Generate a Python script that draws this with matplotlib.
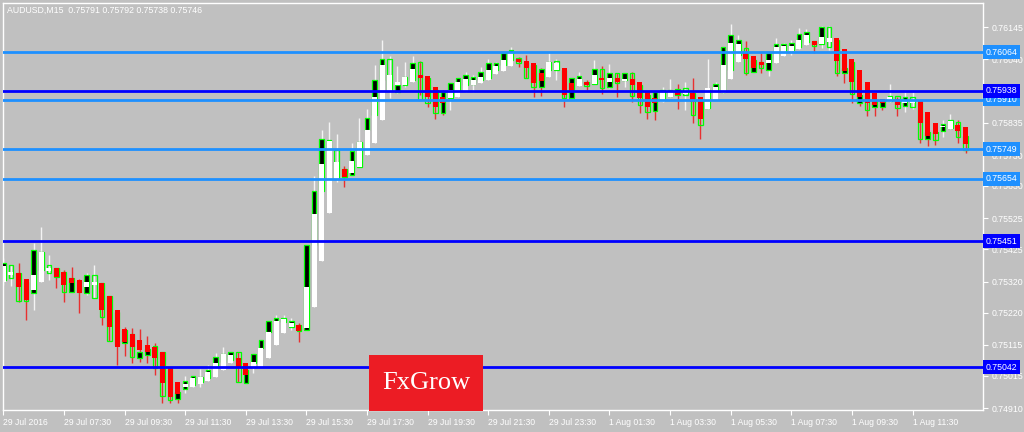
import numpy as np
import matplotlib
matplotlib.use("Agg")
import matplotlib.pyplot as plt
from matplotlib.patches import Rectangle
from matplotlib.transforms import blended_transform_factory

symbol_info = "AUDUSD,M15  0.75791 0.75792 0.75738 0.75746"

time_labels = [
    "29 Jul 2016", "29 Jul 07:30", "29 Jul 09:30", "29 Jul 11:30",
    "29 Jul 13:30", "29 Jul 15:30", "29 Jul 17:30", "29 Jul 19:30",
    "29 Jul 21:30", "29 Jul 23:30", "1 Aug 01:30", "1 Aug 03:30",
    "1 Aug 05:30", "1 Aug 07:30", "1 Aug 09:30", "1 Aug 11:30",
]
bars_per_label = 8

price_ticks = [0.76145, 0.76040, 0.75835, 0.75730, 0.75630, 0.75525,
               0.75425, 0.75320, 0.75220, 0.75115, 0.75015, 0.74910]

# horizontal levels
levels_light = [0.76064, 0.75910, 0.75749, 0.75654]
levels_dark = [0.75938, 0.75451, 0.75042]

# Heiken Ashi (white / red bars)
ha_open = [
    0.75319, 0.75342, 0.75348, 0.75329, 0.75293, 0.75319, 0.75354, 0.75364,
    0.75351, 0.75332, 0.75325, 0.75303, 0.75309, 0.75316, 0.75273, 0.75228,
    0.75166, 0.75150, 0.75131, 0.75115, 0.75108, 0.75092, 0.75043, 0.74995,
    0.74979, 0.74979, 0.74988, 0.74998, 0.75011, 0.75034, 0.75056, 0.75073,
    0.75056, 0.75043, 0.75043, 0.75073, 0.75115, 0.75154, 0.75173, 0.75179,
    0.75170, 0.75238, 0.75387, 0.75542, 0.75653, 0.75685, 0.75672, 0.75691,
    0.75730, 0.75769, 0.75844, 0.75934, 0.75957, 0.75957, 0.75967, 0.75990,
    0.75986, 0.75951, 0.75918, 0.75915, 0.75918, 0.75934, 0.75957, 0.75964,
    0.75973, 0.75993, 0.76002, 0.76019, 0.76041, 0.76035, 0.76028, 0.75996,
    0.75983, 0.76006, 0.76012, 0.75964, 0.75954, 0.75967, 0.75960, 0.75980,
    0.75967, 0.75980, 0.75970, 0.75977, 0.75967, 0.75934, 0.75915, 0.75902,
    0.75918, 0.75934, 0.75928, 0.75931, 0.75918, 0.75879, 0.75909, 0.75931,
    0.75977, 0.76032, 0.76061, 0.76051, 0.76032, 0.76028, 0.76028, 0.76051,
    0.76067, 0.76074, 0.76087, 0.76100, 0.76090, 0.76096, 0.76109, 0.76074,
    0.76041, 0.76006, 0.75967, 0.75931, 0.75912, 0.75902, 0.75912, 0.75899,
    0.75899, 0.75909, 0.75870, 0.75834, 0.75821, 0.75815, 0.75828, 0.75821,
]
ha_close = [
    0.75371, 0.75351, 0.75303, 0.75261, 0.75342, 0.75416, 0.75364, 0.75335,
    0.75309, 0.75316, 0.75283, 0.75319, 0.75319, 0.75228, 0.75173, 0.75108,
    0.75124, 0.75108, 0.75099, 0.75092, 0.75073, 0.74992, 0.74946, 0.74956,
    0.74988, 0.75008, 0.75011, 0.75027, 0.75056, 0.75086, 0.75082, 0.75043,
    0.75018, 0.75060, 0.75105, 0.75157, 0.75192, 0.75199, 0.75186, 0.75160,
    0.75303, 0.75539, 0.75701, 0.75776, 0.75708, 0.75659, 0.75711, 0.75772,
    0.75811, 0.75918, 0.76022, 0.75990, 0.75967, 0.75983, 0.76009, 0.75980,
    0.75918, 0.75886, 0.75899, 0.75941, 0.75967, 0.75977, 0.75973, 0.75983,
    0.76006, 0.76019, 0.76038, 0.76061, 0.76032, 0.76012, 0.75964, 0.75970,
    0.76032, 0.76028, 0.75925, 0.75934, 0.75977, 0.75957, 0.75990, 0.75973,
    0.75980, 0.75967, 0.75977, 0.75957, 0.75915, 0.75886, 0.75899, 0.75934,
    0.75934, 0.75925, 0.75938, 0.75902, 0.75847, 0.75947, 0.75951, 0.76022,
    0.76093, 0.76090, 0.76041, 0.76012, 0.76022, 0.76038, 0.76080, 0.76083,
    0.76083, 0.76103, 0.76119, 0.76087, 0.76113, 0.76109, 0.76035, 0.76002,
    0.75967, 0.75918, 0.75899, 0.75892, 0.75899, 0.75918, 0.75892, 0.75905,
    0.75909, 0.75834, 0.75792, 0.75798, 0.75824, 0.75840, 0.75808, 0.75766,
]
ha_high = [
    0.75397, 0.75374, 0.75380, 0.75329, 0.75445, 0.75497, 0.75406, 0.75364,
    0.75358, 0.75367, 0.75329, 0.75348, 0.75374, 0.75316, 0.75273, 0.75228,
    0.75173, 0.75170, 0.75166, 0.75144, 0.75121, 0.75092, 0.75043, 0.74995,
    0.75014, 0.75014, 0.75037, 0.75050, 0.75089, 0.75108, 0.75092, 0.75092,
    0.75056, 0.75086, 0.75131, 0.75192, 0.75212, 0.75212, 0.75202, 0.75186,
    0.75439, 0.75662, 0.75811, 0.75837, 0.75798, 0.75695, 0.75769, 0.75850,
    0.75879, 0.76022, 0.76103, 0.76051, 0.76019, 0.76032, 0.76051, 0.76035,
    0.75986, 0.75951, 0.75941, 0.75964, 0.75980, 0.75999, 0.75990, 0.76015,
    0.76041, 0.76032, 0.76061, 0.76080, 0.76048, 0.76054, 0.76028, 0.76012,
    0.76064, 0.76041, 0.76012, 0.75980, 0.75999, 0.75973, 0.76038, 0.76019,
    0.76025, 0.75996, 0.75996, 0.75999, 0.75967, 0.75934, 0.75934, 0.75951,
    0.75977, 0.75960, 0.75967, 0.75980, 0.75918, 0.76041, 0.75967, 0.76080,
    0.76155, 0.76119, 0.76100, 0.76051, 0.76061, 0.76064, 0.76109, 0.76093,
    0.76103, 0.76142, 0.76139, 0.76100, 0.76148, 0.76148, 0.76109, 0.76074,
    0.76041, 0.76006, 0.75967, 0.75931, 0.75912, 0.75960, 0.75918, 0.75934,
    0.75934, 0.75909, 0.75870, 0.75834, 0.75844, 0.75863, 0.75844, 0.75821,
]
ha_low = [
    0.75309, 0.75306, 0.75254, 0.75196, 0.75228, 0.75319, 0.75325, 0.75299,
    0.75254, 0.75286, 0.75218, 0.75277, 0.75267, 0.75179, 0.75128, 0.75050,
    0.75079, 0.75056, 0.75060, 0.75056, 0.75018, 0.74927, 0.74927, 0.74927,
    0.74959, 0.74979, 0.74979, 0.74998, 0.75011, 0.75034, 0.75056, 0.74995,
    0.74992, 0.75024, 0.75043, 0.75073, 0.75115, 0.75154, 0.75163, 0.75124,
    0.75163, 0.75238, 0.75387, 0.75542, 0.75643, 0.75627, 0.75666, 0.75691,
    0.75730, 0.75769, 0.75844, 0.75915, 0.75931, 0.75951, 0.75967, 0.75925,
    0.75886, 0.75847, 0.75860, 0.75876, 0.75918, 0.75934, 0.75934, 0.75964,
    0.75973, 0.75993, 0.76002, 0.76019, 0.76015, 0.75980, 0.75918, 0.75922,
    0.75983, 0.75973, 0.75886, 0.75915, 0.75954, 0.75941, 0.75960, 0.75928,
    0.75947, 0.75918, 0.75951, 0.75902, 0.75866, 0.75847, 0.75844, 0.75902,
    0.75918, 0.75879, 0.75876, 0.75834, 0.75782, 0.75879, 0.75909, 0.75931,
    0.75977, 0.76032, 0.75990, 0.75999, 0.75996, 0.75986, 0.76028, 0.76051,
    0.76054, 0.76074, 0.76087, 0.76061, 0.76077, 0.76070, 0.75986, 0.75964,
    0.75899, 0.75889, 0.75857, 0.75857, 0.75876, 0.75902, 0.75857, 0.75870,
    0.75879, 0.75769, 0.75760, 0.75763, 0.75789, 0.75815, 0.75769, 0.75737,
]

# real M15 candle bodies (green outline)
bar_open = [
    0.75325, 0.75374, 0.75348, 0.75319, 0.75283, 0.75358, 0.75374, 0.75364,
    0.75351, 0.75286, 0.75322, 0.75283, 0.75342, 0.75316, 0.75273, 0.75222,
    0.75121, 0.75150, 0.75073, 0.75082, 0.75111, 0.75092, 0.75040, 0.74940,
    0.74972, 0.74985, 0.74995, 0.75008, 0.75047, 0.75060, 0.75066, 0.75092,
    0.74992, 0.75056, 0.75105, 0.75157, 0.75192, 0.75189, 0.75173, 0.75179,
    0.75163, 0.75439, 0.75614, 0.75753, 0.75747, 0.75685, 0.75666, 0.75691,
    0.75811, 0.75860, 0.75973, 0.76041, 0.75934, 0.75957, 0.75973, 0.76032,
    0.75980, 0.75941, 0.75866, 0.75915, 0.75941, 0.75957, 0.75960, 0.75973,
    0.75980, 0.76006, 0.76022, 0.76038, 0.76045, 0.76032, 0.76022, 0.75951,
    0.76006, 0.76035, 0.76006, 0.75915, 0.75964, 0.75967, 0.75960, 0.76009,
    0.75951, 0.75996, 0.75973, 0.75996, 0.75957, 0.75925, 0.75873, 0.75909,
    0.75922, 0.75925, 0.75947, 0.75931, 0.75909, 0.75883, 0.75941, 0.75934,
    0.76006, 0.76054, 0.76077, 0.75999, 0.76032, 0.76006, 0.76038, 0.76064,
    0.76070, 0.76080, 0.76096, 0.76100, 0.76090, 0.76145, 0.76103, 0.75996,
    0.76032, 0.75899, 0.75925, 0.75886, 0.75886, 0.75905, 0.75922, 0.75889,
    0.75918, 0.75902, 0.75782, 0.75805, 0.75808, 0.75818, 0.75837, 0.75791,
]
bar_close = [
    0.75380, 0.75332, 0.75257, 0.75257, 0.75423, 0.75416, 0.75348, 0.75335,
    0.75286, 0.75332, 0.75286, 0.75342, 0.75267, 0.75205, 0.75128, 0.75115,
    0.75163, 0.75076, 0.75092, 0.75102, 0.75040, 0.74950, 0.74937, 0.74962,
    0.74998, 0.75014, 0.75011, 0.75034, 0.75076, 0.75086, 0.75092, 0.74995,
    0.75034, 0.75086, 0.75131, 0.75192, 0.75202, 0.75202, 0.75192, 0.75160,
    0.75439, 0.75614, 0.75782, 0.75779, 0.75656, 0.75659, 0.75743, 0.75772,
    0.75850, 0.75973, 0.76041, 0.75941, 0.75957, 0.75983, 0.76028, 0.75909,
    0.75899, 0.75866, 0.75934, 0.75964, 0.75980, 0.75990, 0.75983, 0.75999,
    0.76028, 0.76028, 0.76061, 0.76070, 0.76028, 0.75980, 0.75951, 0.76009,
    0.76032, 0.76006, 0.75915, 0.75980, 0.75986, 0.75954, 0.76009, 0.75947,
    0.75996, 0.75964, 0.75996, 0.75922, 0.75892, 0.75870, 0.75934, 0.75941,
    0.75941, 0.75944, 0.75925, 0.75860, 0.75828, 0.75941, 0.75960, 0.76080,
    0.76119, 0.76103, 0.75996, 0.76038, 0.76012, 0.76061, 0.76090, 0.76090,
    0.76093, 0.76122, 0.76129, 0.76083, 0.76145, 0.76080, 0.75996, 0.76012,
    0.75928, 0.75925, 0.75876, 0.75909, 0.75905, 0.75922, 0.75883, 0.75918,
    0.75886, 0.75782, 0.75805, 0.75779, 0.75831, 0.75844, 0.75789, 0.75746,
]

BG = "#c0c0c0"
FG = "#ffffff"
LIGHT = "#1e90ff"
DARK = "#0000ff"

plt.rcParams["font.family"] = ["Liberation Sans", "DejaVu Sans"]


def main():
    fig = plt.figure(figsize=(10.24, 4.32), dpi=100, facecolor=BG)
    ax = fig.add_axes([3 / 1024, 22 / 432, 980 / 1024, 407 / 432], facecolor=BG)

    x = np.arange(len(ha_open))
    ho, hc = np.array(ha_open), np.array(ha_close)
    hh, hl = np.array(ha_high), np.array(ha_low)
    bo, bc = np.array(bar_open), np.array(bar_close)

    min_body = 0.000025

    # Heiken Ashi wicks
    ha_colors = np.where(hc >= ho, "white", "#ff0000")
    wick_colors = np.where(hc >= ho, "#f4f4f4", "#e83030")
    ax.vlines(x, hl, hh, colors=wick_colors, lw=1.0, zorder=2)

    # real candles: black bull body, hollow bear body, green outline
    bar_fill = np.where(bc >= bo, "black", "none")
    ax.bar(x, np.maximum(np.abs(bc - bo), min_body), bottom=np.minimum(bo, bc),
           width=0.6, color=bar_fill, edgecolor="#00ff00", linewidth=0.9, zorder=3)

    # Heiken Ashi bodies
    ax.bar(x, np.maximum(np.abs(hc - ho), min_body), bottom=np.minimum(ho, hc),
           width=0.66, color=ha_colors, linewidth=0, zorder=4)

    ybox = blended_transform_factory(ax.transAxes, ax.transData)
    for levels, color in [(levels_light, LIGHT), (levels_dark, DARK)]:
        for lv in levels:
            ax.axhline(lv, color=color, lw=2.0, zorder=6)
            ax.text(1.0025, lv, f"{lv:.5f}", transform=ybox, ha="left", va="center",
                    fontsize=6.3, color=FG, clip_on=False, zorder=8,
                    bbox=dict(boxstyle="square,pad=0.28", fc=color, ec="none"))

    ax.set_xlim(-0.05, 129.3)
    ax.set_ylim(0.749041, 0.762228)

    ax.yaxis.tick_right()
    ax.set_yticks(price_ticks)
    ax.set_yticklabels([f"{p:.5f}" for p in price_ticks])
    ax.tick_params(axis="y", colors=FG, labelcolor=FG, labelsize=6.3,
                   length=3.5, width=0.8, pad=2.5)

    ax.set_xticks(np.arange(len(time_labels)) * bars_per_label)
    ax.set_xticklabels(time_labels, ha="left")
    ax.tick_params(axis="x", colors=FG, labelcolor=FG, labelsize=6.2,
                   length=3.5, width=0.8, pad=2)
    for lbl in ax.get_xticklabels():
        lbl.set_x(lbl.get_position()[0])

    for s in ax.spines.values():
        s.set_color(FG)
        s.set_linewidth(1.0)

    fig.text(7 / 1024, 1 - 10 / 432, symbol_info, fontsize=6.3, color=FG,
             ha="left", va="center")

    # FxGrow badge
    fig.patches.append(Rectangle((369 / 1024, 21 / 432), 114 / 1024, 56 / 432,
                                 transform=fig.transFigure, fc="#ec1c24",
                                 ec="none", zorder=10))
    fig.text(426 / 1024, 1 - 383 / 432, "FxGrow", family="Liberation Serif",
             fontsize=19, color="white", ha="center", va="center", zorder=11)

    fig.savefig("out.png", dpi=100, facecolor=BG)
    plt.close(fig)


if __name__ == "__main__":
    main()
